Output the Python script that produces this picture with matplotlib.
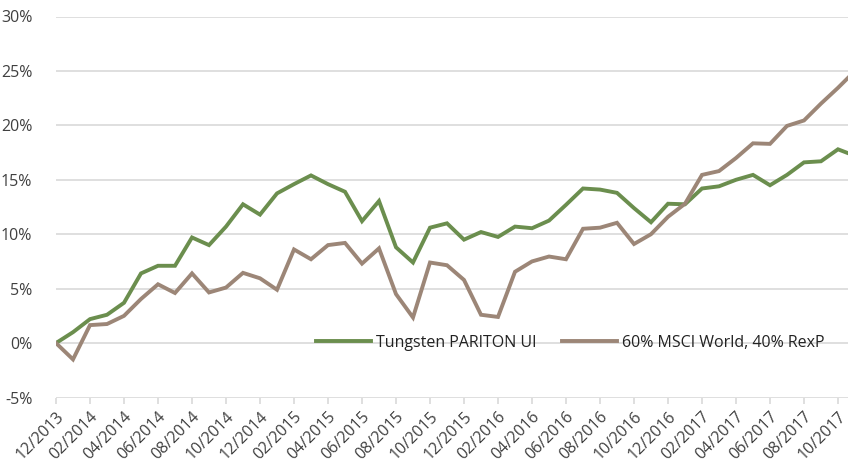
import numpy as np
import matplotlib
matplotlib.use("Agg")
import matplotlib.pyplot as plt
from matplotlib.ticker import FuncFormatter

plt.rcParams['font.family'] = ['Open Sans', 'DejaVu Sans']

# monthly performance, 12/2013 .. 11/2017 (in %)
months = ["12/2013", "01/2014", "02/2014", "03/2014", "04/2014", "05/2014", "06/2014",
          "07/2014", "08/2014", "09/2014", "10/2014", "11/2014", "12/2014",
          "01/2015", "02/2015", "03/2015", "04/2015", "05/2015", "06/2015",
          "07/2015", "08/2015", "09/2015", "10/2015", "11/2015", "12/2015",
          "01/2016", "02/2016", "03/2016", "04/2016", "05/2016", "06/2016",
          "07/2016", "08/2016", "09/2016", "10/2016", "11/2016", "12/2016",
          "01/2017", "02/2017", "03/2017", "04/2017", "05/2017", "06/2017",
          "07/2017", "08/2017", "09/2017", "10/2017", "11/2017"]

pariton = [0.0, 1.0, 2.2, 2.6, 3.7, 6.4, 7.1, 7.1, 9.7, 9.0, 10.7, 12.75, 11.8,
           13.75, 14.6, 15.4, 14.6, 13.9, 11.2, 13.05, 8.8, 7.4, 10.6, 11.0, 9.5,
           10.2, 9.75, 10.7, 10.55, 11.25, 12.7, 14.2, 14.1, 13.8, 12.4, 11.1, 12.8,
           12.75, 14.2, 14.4, 15.0, 15.45, 14.5, 15.45, 16.6, 16.7, 17.8, 17.2]

benchmark = [0.0, -1.5, 1.65, 1.75, 2.5, 4.05, 5.4, 4.6, 6.4, 4.65, 5.1, 6.45, 5.95,
             4.9, 8.6, 7.7, 9.0, 9.2, 7.3, 8.7, 4.5, 2.35, 7.4, 7.15, 5.8,
             2.6, 2.4, 6.55, 7.5, 7.95, 7.7, 10.5, 10.6, 11.05, 9.1, 10.0, 11.6,
             12.8, 15.45, 15.8, 17.0, 18.35, 18.3, 19.95, 20.45, 22.0, 23.45, 25.0]

labels = ["Tungsten PARITON UI", "60% MSCI World, 40% RexP"]
colors = ["#6B8E4E", "#9C8677"]
yticks = [-5, 0, 5, 10, 15, 20, 25, 30]

x = np.arange(len(months))

fig = plt.figure(figsize=(8.48, 4.66), dpi=100)
ax = fig.add_axes([56 / 848, 1 - 397.5 / 466, 1 - 56 / 848, (397.5 - 16.5) / 466])

for v in yticks:
    ax.axhline(v, color="#D9D9D9", lw=1.2, zorder=1)

ax.plot(x, pariton, color=colors[0], lw=2.8, label=labels[0], zorder=3,
        solid_joinstyle="miter")
ax.plot(x, benchmark, color=colors[1], lw=2.8, label=labels[1], zorder=3,
        solid_joinstyle="miter")

ax.set_xlim(0, (848 - 56) / 17)
ax.set_ylim(-5, 30)
ax.set_yticks(yticks)
ax.yaxis.set_major_formatter(FuncFormatter(lambda v, p: f"{v:.0f}%"))
ax.tick_params(axis="y", length=0, pad=17, labelsize=11.5, labelcolor="#404040")

ax.set_xticks(x[::2])
ax.set_xticklabels(months[::2], rotation=45, ha="right", rotation_mode="anchor")
ax.tick_params(axis="x", length=4, width=1.2, color="#D9D9D9", pad=4,
               labelsize=11.5, labelcolor="#404040")

for s in ax.spines.values():
    s.set_visible(False)

ax.legend(loc="center", bbox_to_anchor=(570.5 / 848, 1 - 343 / 466),
          bbox_transform=fig.transFigure, ncol=2, frameon=False, fontsize=11.5,
          handlelength=3.4, handletextpad=0.35, columnspacing=1.6,
          labelcolor="#222222")

fig.savefig("out.png", dpi=100)
